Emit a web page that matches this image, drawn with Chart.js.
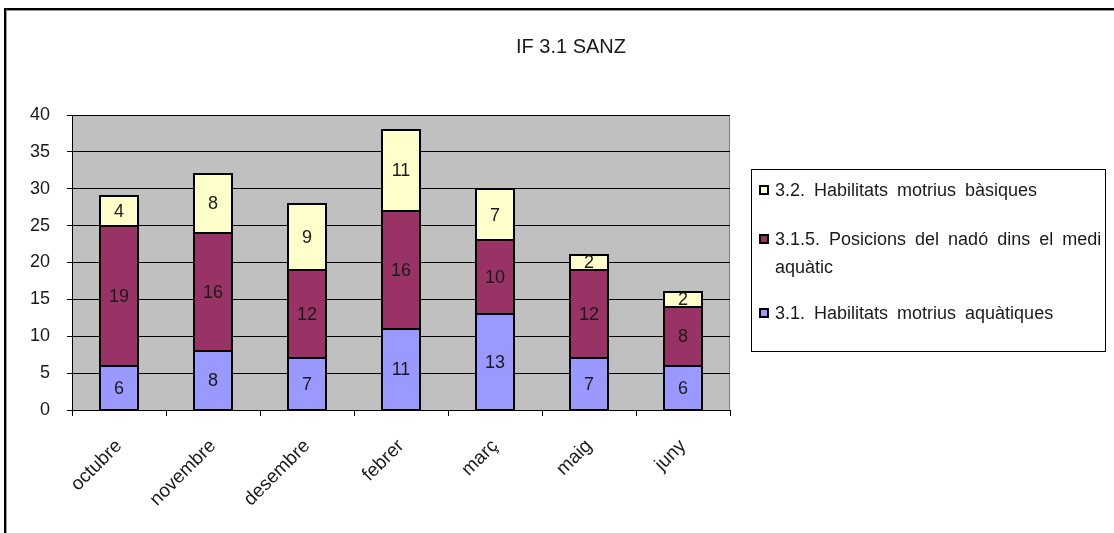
<!DOCTYPE html>
<html>
<head>
<meta charset="utf-8">
<script src="https://cdn.jsdelivr.net/npm/chart.js@4/dist/chart.umd.min.js"></script>
<style>
  html, body { margin: 0; padding: 0; background: #fff; }
  canvas { display: block; }
</style>
</head>
<body>
<canvas id="chart" width="1114" height="533"></canvas>
<script>
// monthly counts per objective
const categories = ['octubre', 'novembre', 'desembre', 'febrer', 'març', 'maig', 'juny'];
const aquatiques = [6, 8, 7, 11, 13, 7, 6];
const posicions = [19, 16, 12, 16, 10, 12, 8];
const basiques = [4, 8, 9, 11, 7, 2, 2];
const yTicks = [0, 5, 10, 15, 20, 25, 30, 35, 40];

const seriesNames = [
  '3.1. Habilitats motrius aquàtiques',
  '3.1.5. Posicions del nadó dins el medi aquàtic',
  '3.2. Habilitats motrius bàsiques'
];
const colors = ['#9999FF', '#993366', '#FFFFCC'];

const FONT = '"Liberation Sans", Arial, sans-serif';
const TXT = '#1a1a1a';

// frame, plot background and title
const backdrop = {
  id: 'backdrop',
  beforeDraw(chart) {
    const { ctx, chartArea: a } = chart;
    ctx.save();
    ctx.fillStyle = '#fff';
    ctx.fillRect(0, 0, chart.width, chart.height);
    // outer frame (top and left)
    ctx.fillStyle = '#000';
    ctx.fillRect(4, 8, chart.width - 4, 2);
    ctx.fillRect(4, 8, 2, chart.height - 8);
    ctx.fillStyle = '#999';
    ctx.fillRect(6, 10, chart.width - 6, 1);
    ctx.fillRect(6, 10, 1, chart.height - 10);
    // plot area
    ctx.fillStyle = '#C0C0C0';
    ctx.fillRect(a.left, a.top, a.right - a.left, a.bottom - a.top);
    ctx.strokeStyle = '#808080';
    ctx.lineWidth = 1;
    ctx.strokeRect(a.left + 0.5, a.top + 0.5, a.right - a.left - 1, a.bottom - a.top);
    // title
    ctx.fillStyle = TXT;
    ctx.font = '20px ' + FONT;
    ctx.textAlign = 'center';
    ctx.textBaseline = 'middle';
    ctx.fillText('IF 3.1 SANZ', 571, 47);
    ctx.restore();
  }
};

// black outline round every segment, then its value in the middle
const segmentLabels = {
  id: 'segmentLabels',
  afterDatasetsDraw(chart) {
    const { ctx } = chart;
    ctx.save();
    ctx.strokeStyle = '#000';
    ctx.lineWidth = 2;
    chart.data.datasets.forEach((ds, i) => {
      chart.getDatasetMeta(i).data.forEach(bar => {
        const { x, y, base, width } = bar.getProps(['x', 'y', 'base', 'width'], true);
        const l = Math.round(x - width / 2), r = Math.round(x + width / 2);
        const t = Math.round(y), b = Math.round(base);
        ctx.strokeRect(l, t, r - l, b - t);
      });
    });
    ctx.fillStyle = TXT;
    ctx.font = '18px ' + FONT;
    ctx.textAlign = 'center';
    ctx.textBaseline = 'middle';
    chart.data.datasets.forEach((ds, i) => {
      chart.getDatasetMeta(i).data.forEach((bar, j) => {
        const p = bar.getCenterPoint();
        ctx.fillText(String(ds.data[j]), p.x, p.y + 1);
      });
    });
    ctx.restore();
  }
};

// boxed legend on the right, top series first
const boxLegend = {
  id: 'boxLegend',
  afterDraw(chart) {
    const { ctx } = chart;
    const box = { x: 751.5, y: 169.5, w: 354, h: 182 };
    ctx.save();
    ctx.strokeStyle = '#000';
    ctx.lineWidth = 1;
    ctx.strokeRect(box.x, box.y, box.w, box.h);
    const items = [
      { color: colors[2], lines: [seriesNames[2]], y: 190 },
      { color: colors[1], lines: ['3.1.5. Posicions del nadó dins el medi', 'aquàtic'], y: 239 },
      { color: colors[0], lines: [seriesNames[0]], y: 313 }
    ];
    ctx.font = '18px ' + FONT;
    ctx.wordSpacing = '4px';
    ctx.textBaseline = 'middle';
    ctx.textAlign = 'left';
    items.forEach(it => {
      ctx.fillStyle = '#000';
      ctx.fillRect(759, it.y - 5, 10, 10);
      ctx.fillStyle = it.color;
      ctx.fillRect(761, it.y - 3, 6, 6);
      ctx.fillStyle = TXT;
      it.lines.forEach((ln, k) => ctx.fillText(ln, 775, it.y + 1 + k * 28));
    });
    ctx.restore();
  }
};

new Chart(document.getElementById('chart'), {
  type: 'bar',
  data: {
    labels: categories,
    datasets: [aquatiques, posicions, basiques].map((d, i) => ({
      label: seriesNames[i],
      data: d,
      backgroundColor: colors[i],
      borderWidth: 0,
      barPercentage: 0.4,
      categoryPercentage: 1
    }))
  },
  options: {
    responsive: false,
    animation: false,
    layout: { padding: { left: 0, top: 115, right: 384, bottom: 0 } },
    plugins: {
      legend: { display: false },
      tooltip: { enabled: false }
    },
    scales: {
      x: {
        stacked: true,
        grid: {
          offset: true,
          drawOnChartArea: false,
          color: '#000',
          tickLength: 6,
          tickColor: '#000'
        },
        border: { color: '#000', width: 1 },
        ticks: {
          color: TXT,
          font: { family: FONT, size: 19 },
          minRotation: 45,
          maxRotation: 45,
          padding: 19
        },
        afterFit(scale) { scale.height = 123; }
      },
      y: {
        stacked: true,
        min: 0,
        max: 40,
        afterBuildTicks(scale) { scale.ticks = yTicks.map(v => ({ value: v })); },
        grid: {
          color: '#000',
          tickLength: 5,
          tickColor: '#000'
        },
        border: { color: '#000', width: 1 },
        ticks: {
          color: TXT,
          font: { family: FONT, size: 18 },
          padding: 17
        },
        afterFit(scale) { scale.width = 72; }
      }
    }
  },
  plugins: [backdrop, segmentLabels, boxLegend]
});
</script>
</body>
</html>
